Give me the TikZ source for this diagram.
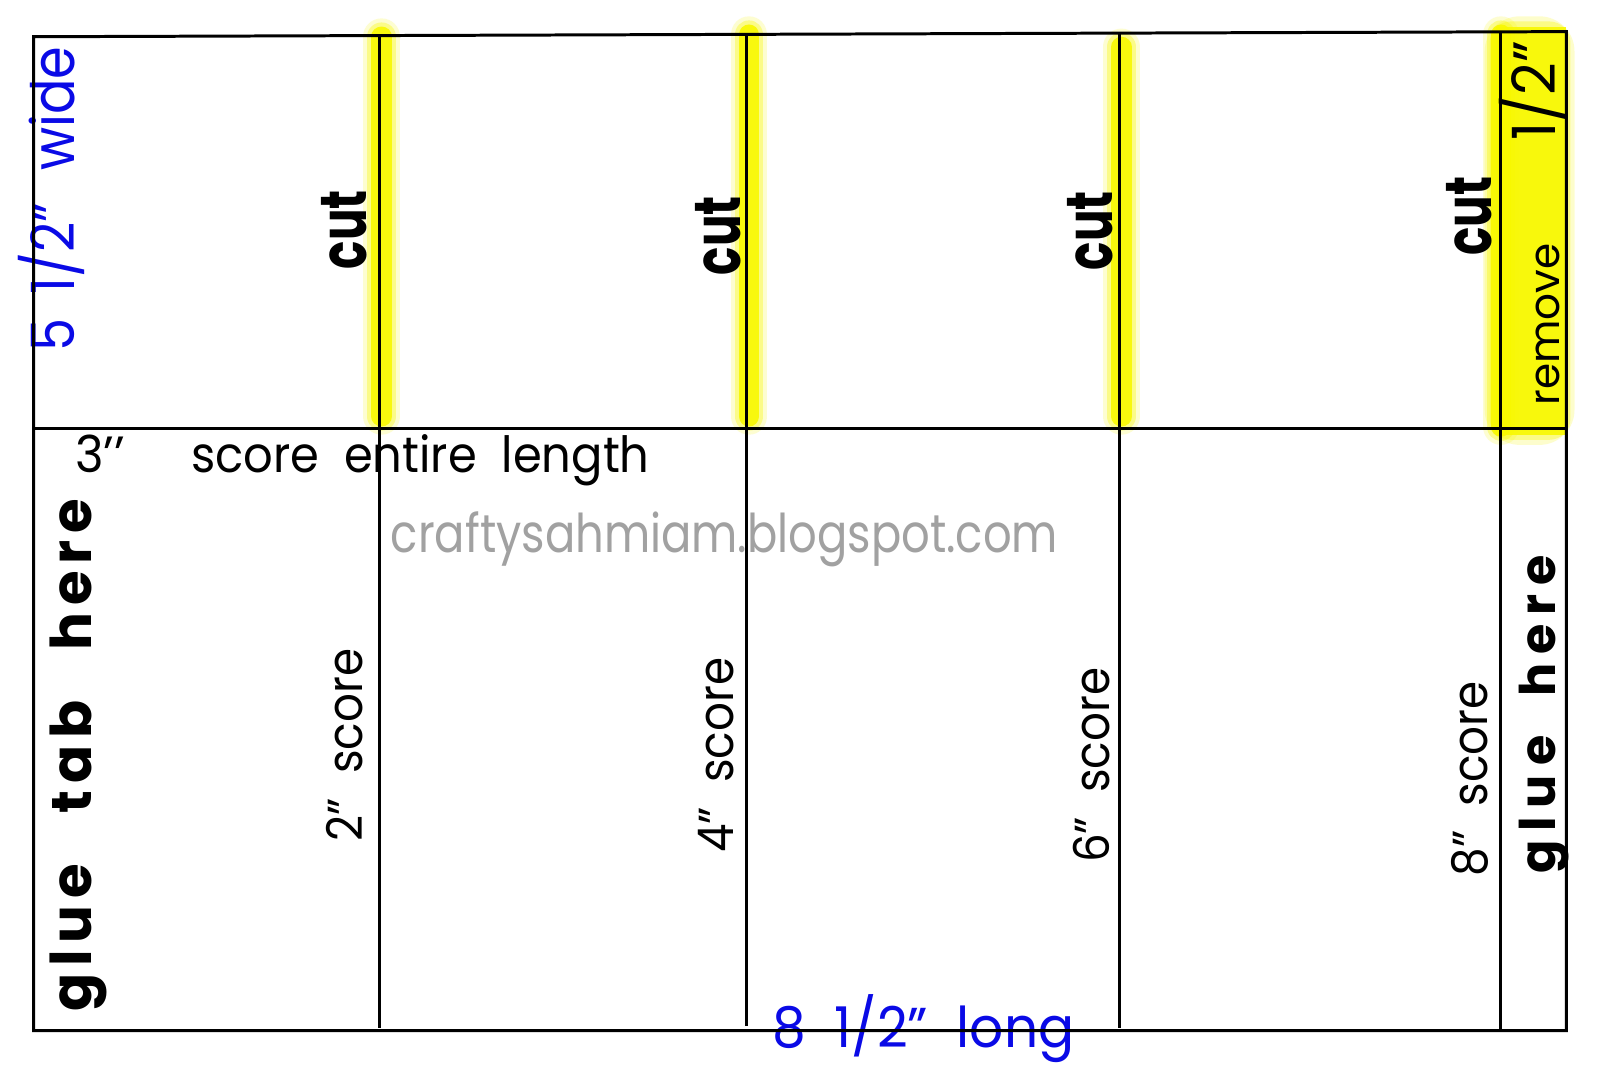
\documentclass[tikz,border=0pt]{standalone}
\usepackage{graphicx}
\usepackage{fontspec}
\setmainfont{Poppins}
\begin{document}
\begin{tikzpicture}[x=0.010204cm,y=-0.010204cm,
  edge/.style={draw=black,line width=0.85pt},
  glowA/.style={draw=hlyellow,line width=36*0.2903pt,line cap=round,opacity=0.18},
  glowB/.style={draw=hlyellow,line width=28*0.2903pt,line cap=round,opacity=0.35},
  glowC/.style={draw=hlyellow,line width=20*0.2903pt,line cap=round,opacity=0.9},
  lbl/.style={inner sep=0pt,text=black},
  blu/.style={inner sep=0pt,text=dimblue},
  cutlbl/.style={inner sep=0pt,rotate=90,font=\fontsize{18.5}{20}\selectfont\bfseries},
  scorelbl/.style={inner sep=0pt,rotate=90,font=\fontsize{14}{15}\selectfont},
  gluelbl/.style={inner sep=0pt,rotate=90,font=\fontsize{16}{18}\selectfont\bfseries\addfontfeature{LetterSpace=12}},
  gluesmall/.style={inner sep=0pt,rotate=90,font=\fontsize{14}{16}\selectfont\bfseries\addfontfeature{LetterSpace=18}}]
\definecolor{hlyellow}{RGB}{248,248,0}
\definecolor{dimblue}{RGB}{10,10,230}
\useasboundingbox[fill=white] (0,0) rectangle (1568,1045);
\clip (0,0) rectangle (1568,1045);
% corner and line end points
\coordinate (TL) at (33,36);
\coordinate (TR) at (1535,31);
\coordinate (BL) at (33,1010);
\coordinate (BR) at (1535,1010);
\coordinate (ML) at (33,420);
\coordinate (MR) at (1535,420);
\coordinate (a1) at (372,35);  \coordinate (a2) at (372,1007);
\coordinate (b1) at (732,34);  \coordinate (b2) at (732,1005);
\coordinate (c1) at (1097,33); \coordinate (c2) at (1097,1007);
\coordinate (d1) at (1470,31); \coordinate (d2) at (1470,1010);
% yellow highlights
\foreach \s in {glowA,glowB,glowC}{
  \draw[\s] (374,36) -- (374,408);
  \draw[\s] (734,34) -- (734,408);
  \draw[\s] (1099,46) -- (1099,408);
  \draw[\s] (1471,34) -- (1471,418);
}
\fill[hlyellow,opacity=0.2,rounded corners=10] (1455,16) rectangle (1543,436);
\fill[hlyellow,opacity=0.35,rounded corners=6] (1460,21) rectangle (1539,431);
\fill[hlyellow,opacity=0.9] (1466,26) rectangle (1535,426);
% labels
\node[blu,rotate=90,font=\fontsize{17}{18}\selectfont] (wide) at (50,195) {\scalebox{0.88}[1]{5\hspace{0.45em}1/2”\hspace{0.6em}wide}};
\node[cutlbl] (cut1) at (337,225) {\scalebox{0.72}[1]{cut}};
\node[cutlbl] (cut2) at (704,231) {\scalebox{0.72}[1]{cut}};
\node[cutlbl] (cut3) at (1068,226) {\scalebox{0.72}[1]{cut}};
\node[cutlbl] (cut4) at (1440,212) {\scalebox{0.72}[1]{cut}};
\node[lbl,rotate=90,font=\fontsize{17}{18}\selectfont] (half) at (1502,89) {\scalebox{0.95}[1]{1/2”}};
\node[lbl,rotate=90,font=\fontsize{12}{13}\selectfont] (remove) at (1517,318) {remove};
\node[lbl,font=\fontsize{14.5}{15}\selectfont] (three) at (98,445) {\scalebox{0.95}[1]{3’’}};
\node[lbl,font=\fontsize{14.2}{15}\selectfont] (sel) at (412,451) {\scalebox{0.93}[1]{score\ \ entire\ \ length}};
\node[lbl,text=black!37,font=\fontsize{15.2}{16}\selectfont] (web) at (710,529) {\scalebox{0.84}[1]{craftysahmiam.blogspot.com}};
\node[gluelbl] (gth) at (77,740) {glue\hspace{0.9em}tab\hspace{0.9em}here};
\node[scorelbl] (s2) at (338,730) {\scalebox{0.92}[1]{2”\ \ score}};
\node[scorelbl] (s4) at (702,740) {\scalebox{0.92}[1]{4”\ \ score}};
\node[scorelbl] (s6) at (1070,750) {\scalebox{0.92}[1]{6”\ \ score}};
\node[scorelbl] (s8) at (1441,763) {\scalebox{0.92}[1]{8”\ \ score}};
\node[gluesmall] (gh) at (1513,700) {glue\hspace{0.8em}here};
\node[blu,font=\fontsize{16}{17}\selectfont] (long) at (905,1008) {\scalebox{0.95}[1]{8\ \ 1/2”\ \ long}};
% lines on top
\draw[edge] (TL) -- (TR) -- (BR) -- (BL) -- cycle;
\draw[edge] (ML) -- (MR);
\draw[edge] (a1) -- (a2);
\draw[edge] (b1) -- (b2);
\draw[edge] (c1) -- (c2);
\draw[edge] (d1) -- (d2);
\end{tikzpicture}
\end{document}
